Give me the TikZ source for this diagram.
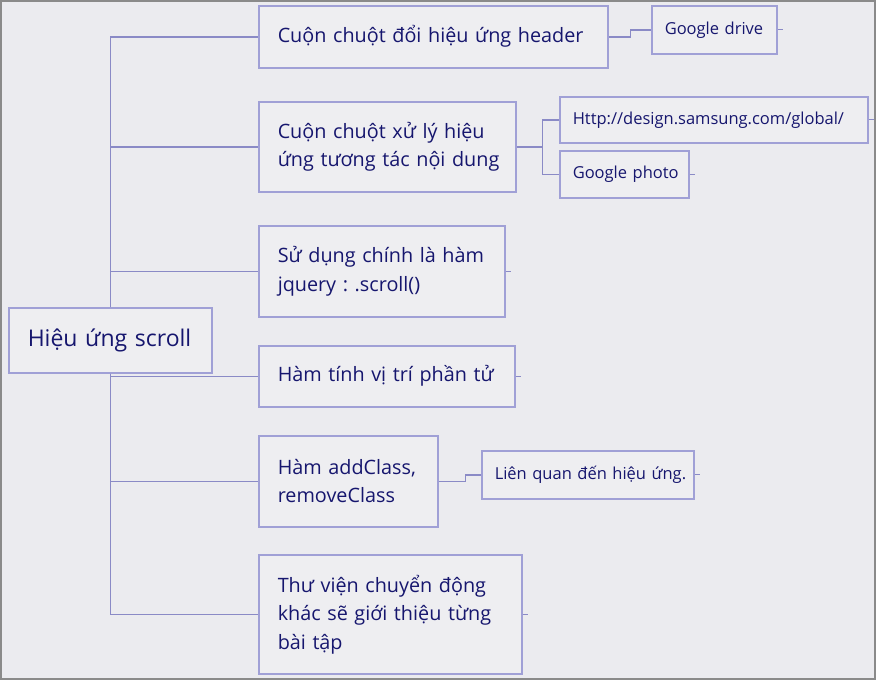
\documentclass[tikz,border=0pt]{standalone}
\usepackage{fontspec}
\setmainfont{Open Sans}
\frenchspacing
\definecolor{bg}{HTML}{EBEBEF}
\definecolor{boxfill}{HTML}{EEEEF1}
\definecolor{boxline}{HTML}{A0A0D6}
\definecolor{conn}{HTML}{8A8AC6}
\definecolor{txt}{HTML}{16166E}
\definecolor{frame}{HTML}{8A8A8A}
\newcommand{\oneline}[1]{\mbox{#1}}
\begin{document}
\begin{tikzpicture}[x=1pt,y=-1pt,
  box/.style={draw=boxline,fill=boxfill,line width=1.5pt,anchor=north west,
    inner xsep=19pt,inner ysep=0pt,align=left,text=txt,
    font=\fontsize{19.8}{28.5}\selectfont},
  leaf/.style={draw=boxline,fill=boxfill,line width=1.5pt,anchor=north west,
    inner xsep=13pt,inner ysep=0pt,align=left,text=txt,
    font=\fontsize{16.5}{20}\selectfont},
  link/.style={draw=conn,line width=1.5pt},
  stub/.style={draw=conn,line width=1.1pt}]
\fill[bg] (0,0) rectangle (876,680);
\draw[frame,line width=2pt] (1,1) rectangle (875,679);
\useasboundingbox (0,0) rectangle (876,680);

% root
\node[box,text width=165pt,minimum height=65pt,inner xsep=19pt,
  font=\fontsize{23}{28}\selectfont] (root) at (8,307) {\oneline{Hiệu ứng scroll}};

% level 1
\node[box,text width=311pt,minimum height=62pt] (b1) at (258,5) {\oneline{Cuộn chuột đổi hiệu ứng header}};
\node[box,text width=219pt,minimum height=90pt] (b2) at (258,101) {\oneline{Cuộn chuột xử lý hiệu}\\\oneline{ứng tương tác nội dung}};
\node[box,text width=208pt,minimum height=91pt] (b3) at (258,225) {\oneline{Sử dụng chính là hàm}\\\oneline{jquery : .scroll()}};
\node[box,text width=218pt,minimum height=61pt] (b4) at (258,345) {\oneline{Hàm tính vị trí phần tử}};
\node[box,text width=141pt,minimum height=91pt] (b5) at (258,435) {\oneline{Hàm addClass,}\\\oneline{removeClass}};
\node[box,text width=225pt,minimum height=119pt] (b6) at (258,554) {\oneline{Thư viện chuyển động}\\\oneline{khác sẽ giới thiệu từng}\\\oneline{bài tập}};

% level 2
\node[leaf,text width=99pt,minimum height=48pt] (gd) at (651,5) {\oneline{Google drive}};
\node[leaf,text width=282pt,minimum height=46pt] (http) at (559,96) {\oneline{Http://design.samsung.com/global/}};
\node[leaf,text width=103pt,minimum height=47pt] (gp) at (559,150) {\oneline{Google photo}};
\node[leaf,text width=186pt,minimum height=48pt] (lq) at (481,450) {\oneline{Liên quan đến hiệu ứng.}};

% trunk connectors
\draw[link] (root.north) |- (b1.west);
\draw[link] (root.north) |- (b2.west);
\draw[link] (root.north) |- (b3.west);
\draw[link] (root.south) |- (b4.west);
\draw[link] (root.south) |- (b5.west);
\draw[link] (root.south) |- (b6.west);

% level 2 connectors
\draw[link] (b1.east) -- ++(22,0) coordinate (j1) |- (gd.west);
\draw[link] (b2.east) -- ++(26,0) coordinate (j2) |- (http.west);
\draw[link] (j2) |- (gp.west);
\draw[link] (b5.east) -- ++(27,0) coordinate (j5) |- (lq.west);

% stubs on leaf ends
\foreach \n in {gd,http,gp,b3,b4,lq,b6}{
  \coordinate (\n-end) at ([xshift=5pt]\n.east);
  \draw[stub] (\n.east) -- (\n-end);
}
\end{tikzpicture}
\end{document}
